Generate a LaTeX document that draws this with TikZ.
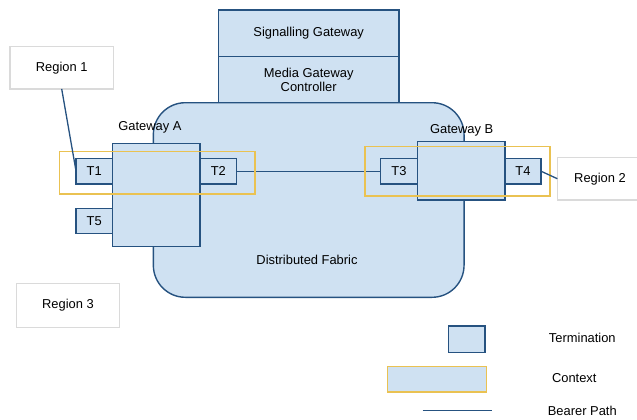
\documentclass[tikz,border=0pt]{standalone}
\usepackage{fontspec}
\setmainfont{Liberation Sans}
\definecolor{fillblue}{RGB}{207,225,242}
\definecolor{edgeblue}{RGB}{38,82,128}
\definecolor{ctxyellow}{RGB}{234,194,82}
\definecolor{regiongray}{RGB}{218,218,218}
\begin{document}
\begin{tikzpicture}[x=1pt,y=-1pt,
  every node/.style={font=\fontsize{12.9}{14.5}\selectfont, inner sep=0pt, outer sep=0pt},
  bluebox/.style={draw=edgeblue, fill=fillblue, line width=1.4pt, rectangle},
  ctxbox/.style={draw=ctxyellow, line width=1.4pt, rectangle},
  regionbox/.style={draw=regiongray, fill=white, line width=1.2pt, rectangle},
  bearer/.style={draw=edgeblue, line width=1.3pt},
  lbl/.style={}
]
\useasboundingbox (0,0) rectangle (637,420);
% fabric
\node[bluebox, rounded corners=32pt, minimum width=310.7pt, minimum height=194.6pt] (fabric) at (308.7,200) {};
\node[lbl] (fabrictxt) at (307,260) {Distributed Fabric};
% signalling / MGC
\node[bluebox, minimum width=180.7pt, minimum height=46.7pt] (sg) at (308.7,33.3) {Signalling Gateway};
\node[bluebox, minimum width=180.7pt, minimum height=46pt, align=center] (mgc) at (308.7,79.7) {Media Gateway\\[-1pt]Controller};
% Gateway A
\node[bluebox, minimum width=87.7pt, minimum height=103.4pt] (gwA) at (156.2,195) {};
\node[lbl] (gwAtxt) at (150,127.7) {Gateway A};
\node[bluebox, minimum width=36.3pt, minimum height=25.7pt] (T1) at (94.2,171.2) {T1};
\node[bluebox, minimum width=36.7pt, minimum height=25.7pt] (T2) at (218.3,171.2) {T2};
\node[bluebox, minimum width=36.3pt, minimum height=25pt] (T5) at (94.2,220.8) {T5};
% Gateway B
\node[bluebox, minimum width=87.7pt, minimum height=58.3pt] (gwB) at (461.2,170.8) {};
\node[lbl] (gwBtxt) at (461.7,130) {Gateway B};
\node[bluebox, minimum width=36.6pt, minimum height=25.7pt] (T3) at (399,171.2) {T3};
\node[bluebox, minimum width=36pt, minimum height=25.7pt] (T4) at (523,171.2) {T4};
% bearer path
\draw[bearer] (T2.east) -- (T3.west);
% contexts
\node[ctxbox, minimum width=195.7pt, minimum height=42.3pt] (ctxA) at (157.2,172.8) {};
\node[ctxbox, minimum width=185pt, minimum height=49.3pt] (ctxB) at (457.5,171.3) {};
% regions
\node[regionbox, minimum width=103.3pt, minimum height=42.3pt] (reg1) at (61.7,67.8) {Region 1};
\node[regionbox, minimum width=85.4pt, minimum height=42.7pt] (reg2) at (600,178.7) {Region 2};
\node[regionbox, minimum width=102.6pt, minimum height=44pt] (reg3) at (68,305.3) {Region 3};
\draw[bearer] (reg1.south) -- (T1.west);
\draw[bearer] (T4.east) -- (reg2.west);
% legend
\node[bluebox, minimum width=36.7pt, minimum height=26.3pt] (legterm) at (466.7,339.2) {};
\node[lbl] (legtermtxt) at (582.3,338.3) {Termination};
\node[draw=ctxyellow, fill=fillblue, line width=1.4pt, minimum width=98.6pt, minimum height=25.3pt] (legctx) at (437,379.3) {};
\node[lbl] (legctxtxt) at (574.3,378.3) {Context};
\coordinate (bpA) at (422.7,410.7);
\coordinate (bpB) at (492.3,410.7);
\draw[bearer] (bpA) -- (bpB);
\node[lbl] (legbptxt) at (582.3,410.7) {Bearer Path};
\end{tikzpicture}
\end{document}
